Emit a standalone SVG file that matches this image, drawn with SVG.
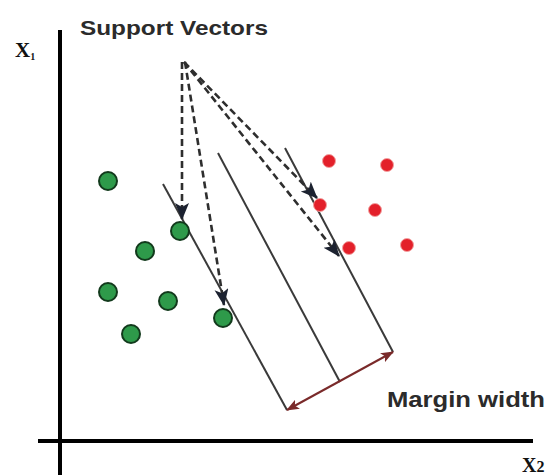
<svg xmlns="http://www.w3.org/2000/svg" width="553" height="475" viewBox="0 0 553 475">
<style>
.axis{stroke:#000;stroke-width:4;fill:none}
.plane{stroke:#3a3a3a;stroke-width:2;fill:none}
.sv{stroke:#2e2e2e;stroke-width:2.6;stroke-dasharray:7 4;fill:none}
.margin{stroke:#7a2a2a;stroke-width:2;fill:none}
.g{fill:#2e9a4a;stroke:#123a1c;stroke-width:2}
.r{fill:#e3202a;stroke:#f3a0a0;stroke-width:1}
.lbl{font-family:"Liberation Sans",Arial,sans-serif;font-weight:bold;fill:#2b2b2b}
.ax{font-family:"Liberation Serif","Times New Roman",serif;font-weight:bold;fill:#111}
</style>
<defs>
<marker id="ah" markerUnits="userSpaceOnUse" markerWidth="18" markerHeight="16" refX="16" refY="7" orient="auto">
<path d="M0,0 L17,7 L0,14 L4,7 Z" fill="#1c2230"/>
</marker>
<marker id="mh" markerUnits="userSpaceOnUse" markerWidth="14" markerHeight="12" refX="12" refY="5" orient="auto-start-reverse">
<path d="M0,0 L13,5 L0,10 L3,5 Z" fill="#7a2a2a"/>
</marker>
</defs>
<rect width="553" height="475" fill="#fff"/>
<g id="axes">
<line class="axis" x1="60" y1="30" x2="60" y2="475"/>
<line class="axis" x1="38" y1="441" x2="533" y2="441"/>
<text class="ax" x="15" y="57" font-size="21">X<tspan font-size="10" dy="3">1</tspan></text>
<text class="ax" x="522" y="472" font-size="20">X<tspan font-size="16">2</tspan></text>
</g>
<g id="hyperplanes">
<line class="plane" x1="163" y1="184" x2="287" y2="410"/>
<line class="plane" x1="218" y1="153" x2="340" y2="382"/>
<line class="plane" x1="285" y1="148" x2="393" y2="352"/>
</g>
<g id="class-green">
<circle class="g" cx="108" cy="181" r="9"/>
<circle class="g" cx="180" cy="231" r="9"/>
<circle class="g" cx="145" cy="251" r="9"/>
<circle class="g" cx="108" cy="292" r="9"/>
<circle class="g" cx="168" cy="301" r="9"/>
<circle class="g" cx="131" cy="334" r="9"/>
<circle class="g" cx="223" cy="318" r="9"/>
</g>
<g id="class-red">
<circle class="r" cx="329" cy="161" r="6.5"/>
<circle class="r" cx="387" cy="165" r="6.5"/>
<circle class="r" cx="320" cy="205" r="6.5"/>
<circle class="r" cx="375" cy="210" r="6.5"/>
<circle class="r" cx="349" cy="248" r="6.5"/>
<circle class="r" cx="407" cy="245" r="6.5"/>
</g>
<g id="connectors">
<line class="sv" x1="182" y1="62" x2="182" y2="219" marker-end="url(#ah)"/>
<line class="sv" x1="185" y1="62" x2="224" y2="305" marker-end="url(#ah)"/>
<line class="sv" x1="184" y1="62" x2="317" y2="198" marker-end="url(#ah)"/>
<line class="sv" x1="184" y1="62" x2="339" y2="256" marker-end="url(#ah)"/>
<line class="margin" x1="287" y1="410" x2="393" y2="352" marker-start="url(#mh)" marker-end="url(#mh)"/>
</g>
<g id="labels">
<text class="lbl" x="80" y="35" font-size="21" textLength="188" lengthAdjust="spacingAndGlyphs">Support Vectors</text>
<text class="lbl" x="387" y="407" font-size="22" textLength="158" lengthAdjust="spacingAndGlyphs" style="font-weight:600">Margin width</text>
</g>
</svg>
